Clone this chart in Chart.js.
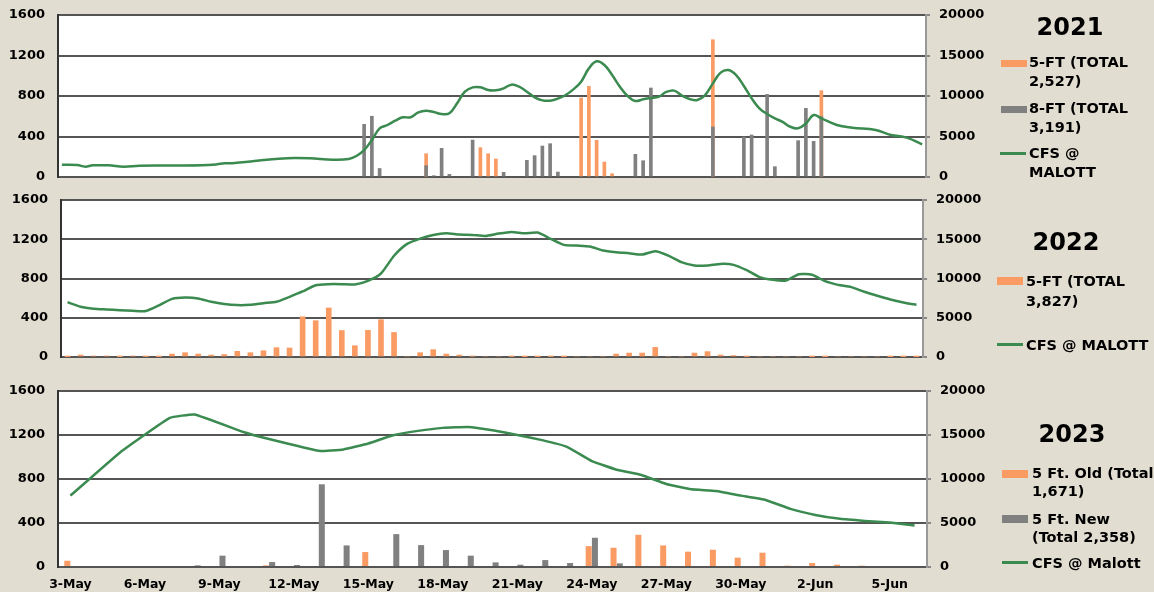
<!DOCTYPE html>
<html>
<head>
<meta charset="utf-8">
<script src="https://cdn.jsdelivr.net/npm/chart.js@4.4.0/dist/chart.umd.min.js"></script>
<style>
  body { margin: 0; width: 1154px; height: 592px; overflow: hidden; position: relative;
         background: #e2ddd1; font-family: 'DejaVu Sans', Verdana, sans-serif; font-weight: bold; color: #000; }
  canvas { position: absolute; left: 0; }
  .year { position: absolute; width: 100px; text-align: center; font-size: 24px; line-height: 24px; }
  .key { position: absolute; font-size: 14.5px; white-space: nowrap; }
  .sw { position: absolute; width: 26px; }
</style>
</head>
<body>
<canvas id="c2021" width="1154" height="190" style="top:0"></canvas>
<canvas id="c2022" width="1154" height="184" style="top:188px"></canvas>
<canvas id="c2023" width="1154" height="216" style="top:376px"></canvas>

<!-- 2021 legend -->
<div class="year" style="left:1020px;top:15px">2021</div>
<div class="sw" style="left:1001px;top:60px;height:7px;background:#f99b63"></div>
<div class="key" style="left:1029px;top:53px;line-height:19px">5-FT (TOTAL<br>2,527)</div>
<div class="sw" style="left:1001px;top:106px;height:7px;background:#808080"></div>
<div class="key" style="left:1029px;top:99px;line-height:19px">8-FT (TOTAL<br>3,191)</div>
<div class="sw" style="left:1000px;top:152px;height:3px;background:#3b8a50"></div>
<div class="key" style="left:1029px;top:144px;line-height:19px">CFS @<br>MALOTT</div>

<!-- 2022 legend -->
<div class="year" style="left:1016px;top:230px">2022</div>
<div class="sw" style="left:997px;top:277px;height:8px;background:#f99b63"></div>
<div class="key" style="left:1026px;top:271px;line-height:20px">5-FT (TOTAL<br>3,827)</div>
<div class="sw" style="left:997px;top:343px;height:3px;background:#3b8a50"></div>
<div class="key" style="left:1026px;top:335px;line-height:20px">CFS @ MALOTT</div>

<!-- 2023 legend -->
<div class="year" style="left:1022px;top:422px">2023</div>
<div class="sw" style="left:1002px;top:470px;height:8px;background:#f99b63"></div>
<div class="key" style="left:1032px;top:465px;line-height:17.5px">5 Ft. Old (Total<br>1,671)</div>
<div class="sw" style="left:1002px;top:515px;height:8px;background:#808080"></div>
<div class="key" style="left:1032px;top:510px;line-height:18px">5 Ft. New<br>(Total 2,358)</div>
<div class="sw" style="left:1002px;top:561px;height:3px;background:#3b8a50"></div>
<div class="key" style="left:1032px;top:554px;line-height:18px">CFS @ Malott</div>

<script>
// 2021: 112 sample slots, bars given as [slot, count]
const slots2021 = 112;
const ft5_2021 = [[47, 230], [54, 290], [55, 230], [56, 178], [67, 780], [68, 895], [69, 362], [70, 148],
  [71, 33], [84, 1356], [98, 853]];
const ft8_2021 = [[39, 520], [40, 600], [41, 84], [47, 112], [48, 13], [49, 283], [50, 26], [53, 365],
  [57, 46], [60, 165], [61, 211], [62, 306], [63, 329], [64, 49], [74, 224], [75, 161], [76, 879],
  [84, 494], [88, 395], [89, 415], [91, 816], [92, 102], [95, 359], [96, 678], [97, 352], [98, 596]];
const cfs_2021 = [[0, 1520], [2, 1480], [3, 1280], [4, 1440], [6, 1440], [8, 1280], [10, 1400], [14, 1420],
  [18, 1440], [20, 1560], [21, 1690], [22, 1690], [24, 1890], [26, 2100], [28, 2260], [30, 2340], [32, 2300],
  [35, 2140], [37, 2220], [38, 2590], [39, 3330], [40, 4570], [41, 6000], [42, 6420], [43, 6950], [44, 7370],
  [45, 7370], [46, 7980], [47, 8190], [48, 8020], [49, 7780], [50, 7860], [51, 9100], [52, 10530], [53, 11070],
  [54, 11070], [55, 10740], [56, 10700], [57, 10950], [58, 11400], [59, 11150], [60, 10530], [61, 9840],
  [62, 9460], [63, 9420], [64, 9670], [65, 10120], [66, 10820], [67, 11770], [68, 13410], [69, 14280],
  [70, 13830], [71, 12590], [72, 11150], [73, 10000], [74, 9380], [75, 9600], [76, 9760], [77, 9900],
  [78, 10500], [79, 10660], [80, 10060], [81, 9630], [82, 9510], [83, 10120], [84, 11560], [85, 12880],
  [86, 13210], [87, 12590], [88, 11230], [89, 9710], [90, 8480], [91, 7780], [92, 7240], [93, 6800],
  [94, 6200], [95, 6010], [96, 6600], [97, 7650], [98, 7240], [100, 6420], [102, 6090], [105, 5800],
  [107, 5190], [109, 4860], [111, 4030]];

// 2022: 66 sample slots
const ft5_2022 = [3, 20, 10, 10, 3, 10, 5, 3, 30, 44, 30, 20, 25, 58, 44, 64, 95, 92, 410, 370, 500, 270, 115,
  272, 380, 250, 0, 44, 75, 30, 20, 8, 0, 0, 5, 3, 3, 5, 3, 0, 0, 0, 30, 40, 40, 98, 0, 0, 40, 55, 20, 15, 5,
  0, 0, 0, 0, 3, 2, 0, 0, 0, 0, 2, 2, 2];
const cfs_2022 = [6990, 6400, 6150, 6060, 5970, 5890, 5850, 6570, 7410, 7580, 7460, 7030, 6740, 6610, 6650,
  6860, 7030, 7670, 8350, 9150, 9280, 9280, 9240, 9700, 10640, 12900, 14410, 15080, 15550, 15760, 15590,
  15550, 15420, 15720, 15930, 15760, 15850, 15040, 14280, 14190, 14070, 13560, 13350, 13220, 13050, 13470,
  12920, 12080, 11650, 11650, 11860, 11740, 11060, 10170, 9830, 9750, 10550, 10470, 9660, 9190, 8900, 8310,
  7800, 7330, 6950, 6650];

// 2023: daily
const dates2023 = ['3-May', '4-May', '5-May', '6-May', '7-May', '8-May', '9-May', '10-May', '11-May', '12-May',
  '13-May', '14-May', '15-May', '16-May', '17-May', '18-May', '19-May', '20-May', '21-May', '22-May', '23-May',
  '24-May', '25-May', '26-May', '27-May', '28-May', '29-May', '30-May', '31-May', '1-Jun', '2-Jun', '3-Jun',
  '4-Jun', '5-Jun', '6-Jun'];
const ft5old_2023 = [57, 0, 0, 0, 0, 0, 0, 0, 15, 0, 0, 0, 136, 0, 0, 0, 0, 0, 0, 0, 0, 190, 175, 293, 196, 139,
  157, 85, 130, 12, 36, 21, 12, 9, 0];
const ft5new_2023 = [0, 0, 0, 0, 0, 15, 103, 0, 45, 18, 752, 196, 0, 299, 199, 154, 103, 42, 21, 63, 36, 266, 33,
  0, 0, 0, 0, 0, 0, 0, 0, 0, 0, 0, 0];
const cfs_2023 = [8110, null, 13020, null, 16940, 17330, null, 15310, 14540, null, 13200, 13360, 14040, 14980,
  15470, 15810, 15920, 15550, 15000, 14420, 13660, 12040, 11050, 10450, 9430, 8830, 8640, 8110, 7620, 6600,
  5920, 5470, 5240, 5050, 4710];

const ORANGE = '#f99b63';
const GRAY = '#808080';
const GREEN = '#3b8a50';
const FONT = "'DejaVu Sans', Verdana, sans-serif";

// white plot area on the beige page
const plotBg = {
  id: 'plotBg',
  beforeDraw(chart) {
    const { ctx, chartArea: a } = chart;
    ctx.save();
    ctx.fillStyle = '#fff';
    ctx.fillRect(a.left, a.top, a.right - a.left, a.bottom - a.top);
    ctx.restore();
  }
};

function fromPairs(n, pairs) {
  const arr = new Array(n).fill(null);
  pairs.forEach(([i, v]) => { arr[i] = v; });
  return arr;
}

function cfsLine(data, tension) {
  return {
    type: 'line', label: 'CFS', data: data, yAxisID: 'y1', order: 0,
    borderColor: GREEN, borderWidth: 2.5, pointRadius: 0, tension: tension, spanGaps: true
  };
}

function fixWidth(w) {
  return s => { s.width = w; s.paddingTop = 0; s.paddingBottom = 0; };
}

function panel(id, p) {
  return new Chart(document.getElementById(id), {
    type: 'bar',
    data: { labels: p.labels, datasets: p.datasets },
    plugins: [plotBg],
    options: {
      responsive: false,
      animation: false,
      devicePixelRatio: 1,
      layout: { padding: p.padding },
      plugins: { legend: { display: false }, tooltip: { enabled: false } },
      scales: {
        x: p.x || { display: false },
        y: {
          position: 'left', min: 0, max: 1600,
          ticks: { stepSize: 400, padding: 13, color: '#000', font: { family: FONT, size: 13, weight: 'bold' },
                   callback: v => String(v) },
          grid: { color: '#555', lineWidth: 2, drawTicks: false },
          border: { color: '#333', width: 2 },
          afterFit: fixWidth(p.left)
        },
        y1: {
          position: 'right', min: 0, max: 20000,
          ticks: { stepSize: 5000, padding: 9, color: '#000', font: { family: FONT, size: 13, weight: 'bold' },
                   callback: v => String(v) },
          grid: { drawOnChartArea: false, drawTicks: true, tickLength: 4, color: '#888', lineWidth: 2 },
          border: { color: '#999', width: 2 },
          afterFit: fixWidth(1154 - p.right)
        }
      }
    }
  });
}

panel('c2021', {
  labels: Array.from({ length: slots2021 }, (_, i) => i),
  padding: { top: 15, bottom: 13, left: 0, right: 0 },
  left: 58, right: 926,
  datasets: [
    cfsLine(fromPairs(slots2021, cfs_2021), 0.4),
    { label: '8-FT', data: fromPairs(slots2021, ft8_2021), backgroundColor: GRAY, order: 1, grouped: false, barThickness: 3 },
    { label: '5-FT', data: fromPairs(slots2021, ft5_2021), backgroundColor: ORANGE, order: 2, grouped: false, barThickness: 3 }
  ]
});

panel('c2022', {
  labels: ft5_2022.map((_, i) => i),
  padding: { top: 12, bottom: 15, left: 0, right: 0 },
  left: 61, right: 923,
  datasets: [
    cfsLine(cfs_2022, 0.2),
    { label: '5-FT', data: ft5_2022, backgroundColor: ORANGE, order: 1, barThickness: 5 }
  ]
});

panel('c2023', {
  labels: dates2023,
  padding: { top: 15, bottom: 0, left: 0, right: 0 },
  left: 58, right: 927,
  x: {
    grid: { display: false, drawTicks: false },
    border: { display: false },
    ticks: {
      autoSkip: false, maxRotation: 0, padding: 10, color: '#000',
      font: { family: FONT, size: 12.5, weight: 'bold' },
      callback: (v, i) => (i % 3 === 0 ? dates2023[i] : '')
    },
    afterFit: s => { s.height = 25; }
  },
  datasets: [
    cfsLine(cfs_2023, 0.1),
    { label: '5 Ft. Old', data: ft5old_2023, backgroundColor: ORANGE, order: 1, categoryPercentage: 0.5, barPercentage: 0.97 },
    { label: '5 Ft. New', data: ft5new_2023, backgroundColor: GRAY, order: 2, categoryPercentage: 0.5, barPercentage: 0.97 }
  ]
});
</script>
</body>
</html>
